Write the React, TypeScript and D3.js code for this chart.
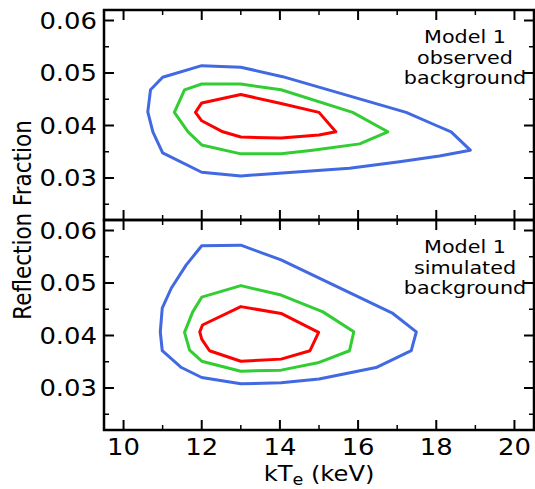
import React from 'react';
import * as d3 from 'd3';

// contour vertices [kTe, reflection fraction]
const obsBlue = [
  [10.62, 0.0426], [10.69, 0.0468], [11.0, 0.0492], [12.0, 0.0514], [13.0, 0.0511],
  [14.07, 0.0493], [17.23, 0.0425], [18.0, 0.0400], [18.38, 0.0388], [18.87, 0.0353],
  [18.08, 0.0342], [17.06, 0.0331], [15.78, 0.03185], [13.0, 0.0304], [12.0, 0.0311],
  [11.0, 0.0348], [10.75, 0.0388],
];
const obsGreen = [
  [11.3, 0.0425], [11.56, 0.0468], [12.0, 0.0479], [13.0, 0.0479], [14.03, 0.0468],
  [15.86, 0.0425], [16.76, 0.0388], [16.04, 0.0365], [14.84, 0.0353], [14.03, 0.0346],
  [13.0, 0.0346], [12.0, 0.0363], [11.65, 0.0388],
];
const obsRed = [
  [11.84, 0.0425], [12.0, 0.0443], [13.0, 0.0459], [14.03, 0.0442], [15.0, 0.0425],
  [15.43, 0.0388], [15.0, 0.0382], [14.03, 0.0376], [13.0, 0.0378], [12.54, 0.0388],
  [12.0, 0.0409],
];
const simBlue = [
  [12.0, 0.0571], [13.0, 0.0572], [14.03, 0.0544], [16.89, 0.0442], [17.49, 0.0407],
  [17.36, 0.0371], [16.46, 0.0339], [15.0, 0.0317], [14.03, 0.0310], [13.0, 0.0308],
  [12.0, 0.0320], [11.48, 0.0339], [10.99, 0.0371], [10.94, 0.0407], [10.99, 0.0452],
  [11.22, 0.0490], [11.6, 0.0534],
];
const simGreen = [
  [12.0, 0.0473], [13.0, 0.0495], [14.03, 0.0477], [15.1, 0.0445], [15.89, 0.0407],
  [15.78, 0.0371], [14.97, 0.0348], [14.03, 0.0334], [13.0, 0.0332], [12.0, 0.0351],
  [11.69, 0.0372], [11.56, 0.0406], [11.77, 0.0445],
];
const simRed = [
  [11.95, 0.0407], [12.02, 0.0420], [13.0, 0.0455], [14.03, 0.0442], [14.99, 0.0406],
  [14.77, 0.0371], [14.03, 0.0355], [13.0, 0.0351], [12.2, 0.0371], [12.0, 0.0393],
];

const xTicks = [10, 12, 14, 16, 18, 20];
const yTicks = [0.03, 0.04, 0.05, 0.06];
const panelLabels = [
  ['Model 1', 'observed', 'background'],
  ['Model 1', 'simulated', 'background'],
];

const W = 535;
const H = 489;
const left = 104;
const right = 534;
const panels = [
  { top: 10, bottom: 220, contours: [obsBlue, obsGreen, obsRed], text: panelLabels[0] },
  { top: 220, bottom: 430, contours: [simBlue, simGreen, simRed], text: panelLabels[1] },
];
const colors = ['#4169e1', '#32cd32', '#ff0000'];
const font = 'DejaVu Sans, sans-serif';
const sx = 1.15; // the picture's text is a bit wider than it is tall

export default function App() {
  const x = d3.scaleLinear().domain([9.5, 20.5]).range([left, right]);
  const xMinor = d3.range(10, 21, 1).filter((v) => !xTicks.includes(v));

  return (
    <svg width={W} height={H} style={{ position: 'absolute', left: 0, top: 0 }}>
      <rect width={W} height={H} fill="#fff" />
      {panels.map((p, pi) => {
        const y = d3.scaleLinear().domain([0.022, 0.062]).range([p.bottom, p.top]);
        const line = d3
          .line<number[]>()
          .x((d) => x(d[0]))
          .y((d) => y(d[1]))
          .curve(d3.curveLinearClosed);
        const yMinor = d3.range(0.025, 0.0621, 0.005).filter((v) => !yTicks.some((t) => Math.abs(t - v) < 1e-6));
        return (
          <g key={pi}>
            <defs>
              <clipPath id={`clip${pi}`}>
                <rect x={left} y={p.top} width={right - left} height={p.bottom - p.top} />
              </clipPath>
            </defs>
            <g clipPath={`url(#clip${pi})`}>
              {p.contours.map((c, ci) => (
                <path key={ci} d={line(c) || ''} fill="none" stroke={colors[ci]} strokeWidth={3} strokeLinejoin="round" />
              ))}
            </g>
            {/* ticks, pointing in, on all four sides */}
            {xTicks.map((t) => (
              <g key={'xt' + t} stroke="#000" strokeWidth={2}>
                <line x1={x(t)} x2={x(t)} y1={p.bottom} y2={p.bottom - 10} />
                <line x1={x(t)} x2={x(t)} y1={p.top} y2={p.top + 10} />
              </g>
            ))}
            {xMinor.map((t) => (
              <g key={'xm' + t} stroke="#000" strokeWidth={1.5}>
                <line x1={x(t)} x2={x(t)} y1={p.bottom} y2={p.bottom - 5} />
                <line x1={x(t)} x2={x(t)} y1={p.top} y2={p.top + 5} />
              </g>
            ))}
            {yTicks.map((t) => (
              <g key={'yt' + t}>
                <line x1={left} x2={left + 10} y1={y(t)} y2={y(t)} stroke="#000" strokeWidth={2} />
                <line x1={right} x2={right - 10} y1={y(t)} y2={y(t)} stroke="#000" strokeWidth={2} />
                <text
                  transform={`translate(${left - 7},${y(t)}) scale(${sx},1)`}
                  dy="0.36em"
                  textAnchor="end"
                  fontFamily={font}
                  fontSize={22.5}
                >
                  {d3.format('.2f')(t)}
                </text>
              </g>
            ))}
            {yMinor.map((t) => (
              <g key={'ym' + t} stroke="#000" strokeWidth={1.5}>
                <line x1={left} x2={left + 5} y1={y(t)} y2={y(t)} />
                <line x1={right} x2={right - 5} y1={y(t)} y2={y(t)} />
              </g>
            ))}
            <rect x={left} y={p.top} width={right - left} height={p.bottom - p.top} fill="none" stroke="#000" strokeWidth={2.5} />
            {p.text.map((s, i) => (
              <text
                key={i}
                transform={`translate(465,${p.top + 33 + i * 20.5}) scale(${sx},1)`}
                textAnchor="middle"
                fontFamily={font}
                fontSize={18}
              >
                {s}
              </text>
            ))}
          </g>
        );
      })}
      {xTicks.map((t) => (
        <text
          key={'xl' + t}
          transform={`translate(${x(t)},455) scale(${sx},1)`}
          textAnchor="middle"
          fontFamily={font}
          fontSize={22.5}
        >
          {t}
        </text>
      ))}
      <text
        transform={`translate(${(left + right) / 2},481) scale(1.1,1)`}
        textAnchor="middle"
        fontFamily={font}
        fontSize={22}
      >
        kT
        <tspan dy={4} fontSize={16}>e</tspan>
        <tspan dy={-4}> (keV)</tspan>
      </text>
      <text
        transform={`translate(31,${(10 + 430) / 2}) scale(${sx},1) rotate(-90)`}
        textAnchor="middle"
        fontFamily={font}
        fontSize={21.5}
      >
        Reflection Fraction
      </text>
    </svg>
  );
}
